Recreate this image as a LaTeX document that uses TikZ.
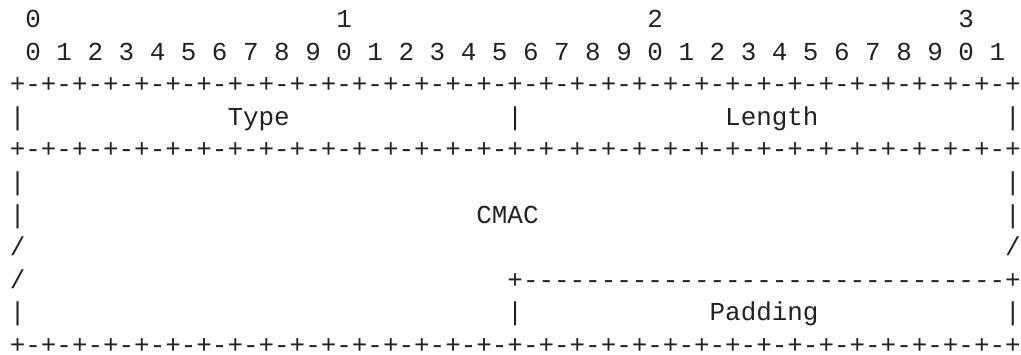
\documentclass[tikz,border=0pt]{standalone}
\usepackage{fontspec}
\setmonofont{Liberation Mono}
\definecolor{ink}{RGB}{34,34,34}
\newcommand\rulerline{+-+-+-+-+-+-+-+-+-+-+-+-+-+-+-+-+-+-+-+-+-+-+-+-+-+-+-+-+-+-+-+-+}
\newcommand\dashline{+-------------------------------+}
\tikzset{
  txt/.style={anchor=base west, inner sep=0pt, outer sep=0pt, text=ink,
    font=\ttfamily\fontsize{25.92pt}{32.6pt}\selectfont}
}
\newcommand\putc[4]{\node[txt] (#1) at ({9.8pt+15.552pt*#2},{-27.5pt-32.6pt*(#3-1)}) {#4};}
\begin{document}
\begin{tikzpicture}
\useasboundingbox (0,0) rectangle (1021pt,-354pt);
% row 1: decade numbers
\putc{d0}{1}{1}{0}
\putc{d1}{21}{1}{1}
\putc{d2}{41}{1}{2}
\putc{d3}{61}{1}{3}
% row 2: bit numbers
\foreach \i in {0,...,31}{
  \pgfmathtruncatemacro{\dig}{mod(\i,10)}
  \pgfmathtruncatemacro{\col}{1+2*\i}
  \putc{b\i}{\col}{2}{\dig}
}
% row 3
\putc{r3}{0}{3}{\rulerline}
% row 4
\putc{v4a}{0}{4}{|}
\putc{type}{14}{4}{Type}
\putc{v4b}{32}{4}{|}
\putc{length}{46}{4}{Length}
\putc{v4c}{64}{4}{|}
% row 5
\putc{r5}{0}{5}{\rulerline}
% row 6
\putc{v6a}{0}{6}{|}
\putc{v6b}{64}{6}{|}
% row 7
\putc{v7a}{0}{7}{|}
\putc{cmac}{30}{7}{CMAC}
\putc{v7b}{64}{7}{|}
% row 8
\putc{s8a}{0}{8}{/}
\putc{s8b}{64}{8}{/}
% row 9
\putc{s9a}{0}{9}{/}
\putc{d9}{32}{9}{\dashline}
% row 10
\putc{v10a}{0}{10}{|}
\putc{v10b}{32}{10}{|}
\putc{padding}{45}{10}{Padding}
\putc{v10c}{64}{10}{|}
% row 11
\putc{r11}{0}{11}{\rulerline}
\end{tikzpicture}
\end{document}
